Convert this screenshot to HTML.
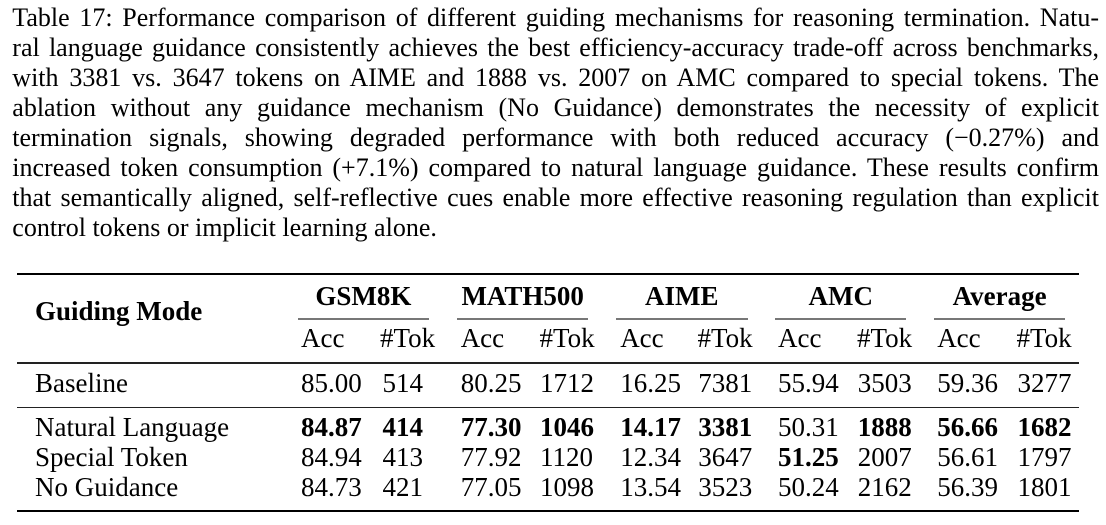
<!DOCTYPE html>
<html>
<head>
<meta charset="utf-8">
<style>
  html, body { margin:0; padding:0; background:#fff; }
  body { width:1106px; height:525px; position:relative; overflow:hidden;
         font-family:"Liberation Serif","Times New Roman",serif; color:#000; }
  .ln { position:absolute; left:12.3px; font-size:26px; line-height:26px; white-space:nowrap; }
  .t { position:absolute; font-size:27px; line-height:27px; white-space:nowrap; }
  .b { font-weight:bold; }
  .c { width:200px; text-align:center; }
  .rule { position:absolute; background:#000; }
  .cmid { position:absolute; background:#777; height:1.5px; top:318px; }
</style>
</head>
<body>
<div class="ln" style="top:4.9px"><span>Table 17: Performance comparison of different guiding mechanisms for reasoning termination. Natu-</span></div>
<div class="ln" style="top:34.9px"><span>ral language guidance consistently achieves the best efficiency-accuracy trade-off across benchmarks,</span></div>
<div class="ln" style="top:64.9px"><span>with 3381 vs. 3647 tokens on AIME and 1888 vs. 2007 on AMC compared to special tokens. The</span></div>
<div class="ln" style="top:94.9px"><span>ablation without any guidance mechanism (No Guidance) demonstrates the necessity of explicit</span></div>
<div class="ln" style="top:124.9px"><span>termination signals, showing degraded performance with both reduced accuracy (−0.27%) and</span></div>
<div class="ln" style="top:154.9px"><span>increased token consumption (+7.1%) compared to natural language guidance. These results confirm</span></div>
<div class="ln" style="top:184.9px"><span>that semantically aligned, self-reflective cues enable more effective reasoning regulation than explicit</span></div>
<div class="ln last" style="top:214.9px"><span>control tokens or implicit learning alone.</span></div>

<!-- rules -->
<div class="rule" style="left:17.3px;width:1062px;top:273px;height:2px"></div>
<div class="cmid" style="left:297.7px;width:131.6px"></div>
<div class="cmid" style="left:457.1px;width:131.2px"></div>
<div class="cmid" style="left:616px;width:131.5px"></div>
<div class="cmid" style="left:775.2px;width:131.2px"></div>
<div class="cmid" style="left:934px;width:131.2px"></div>
<div class="rule" style="left:17.3px;width:1062px;top:362px;height:1.5px;background:#222"></div>
<div class="rule" style="left:17.3px;width:1062px;top:406.5px;height:1.5px;background:#222"></div>
<div class="rule" style="left:17.3px;width:1062px;top:510px;height:2px"></div>

<!-- header -->
<div class="t b" style="left:35px;top:297.7px">Guiding Mode</div>
<div class="t b c" style="left:263.4px;top:282.7px">GSM8K</div>
<div class="t b c" style="left:422.7px;top:282.7px">MATH500</div>
<div class="t b c" style="left:581.8px;top:282.7px">AIME</div>
<div class="t b c" style="left:740.8px;top:282.7px">AMC</div>
<div class="t b c" style="left:899.6px;top:282.7px">Average</div>

<div class="t" style="left:301px;top:325.4px">Acc</div>
<div class="t" style="left:380px;top:325.4px">#Tok</div>
<div class="t" style="left:460.7px;top:325.4px">Acc</div>
<div class="t" style="left:539.5px;top:325.4px">#Tok</div>
<div class="t" style="left:620.2px;top:325.4px">Acc</div>
<div class="t" style="left:697.5px;top:325.4px">#Tok</div>
<div class="t" style="left:778px;top:325.4px">Acc</div>
<div class="t" style="left:857px;top:325.4px">#Tok</div>
<div class="t" style="left:937.2px;top:325.4px">Acc</div>
<div class="t" style="left:1016.5px;top:325.4px">#Tok</div>

<!-- Baseline row -->
<div class="t" style="left:35px;top:370.1px">Baseline</div>
<div class="t" style="left:301px;top:370.1px">85.00</div>
<div class="t" style="left:382.5px;top:370.1px">514</div>
<div class="t" style="left:460.7px;top:370.1px">80.25</div>
<div class="t" style="left:540px;top:370.1px">1712</div>
<div class="t" style="left:620.2px;top:370.1px">16.25</div>
<div class="t" style="left:698.2px;top:370.1px">7381</div>
<div class="t" style="left:778px;top:370.1px">55.94</div>
<div class="t" style="left:857.8px;top:370.1px">3503</div>
<div class="t" style="left:937.2px;top:370.1px">59.36</div>
<div class="t" style="left:1017.5px;top:370.1px">3277</div>

<!-- Natural Language -->
<div class="t" style="left:35px;top:414.1px">Natural Language</div>
<div class="t b" style="left:301px;top:414.1px">84.87</div>
<div class="t b" style="left:382.5px;top:414.1px">414</div>
<div class="t b" style="left:460.7px;top:414.1px">77.30</div>
<div class="t b" style="left:540px;top:414.1px">1046</div>
<div class="t b" style="left:620.2px;top:414.1px">14.17</div>
<div class="t b" style="left:698.2px;top:414.1px">3381</div>
<div class="t" style="left:778px;top:414.1px">50.31</div>
<div class="t b" style="left:857.8px;top:414.1px">1888</div>
<div class="t b" style="left:937.2px;top:414.1px">56.66</div>
<div class="t b" style="left:1017.5px;top:414.1px">1682</div>

<!-- Special Token -->
<div class="t" style="left:35px;top:444.1px">Special Token</div>
<div class="t" style="left:301px;top:444.1px">84.94</div>
<div class="t" style="left:382.5px;top:444.1px">413</div>
<div class="t" style="left:460.7px;top:444.1px">77.92</div>
<div class="t" style="left:540px;top:444.1px">1120</div>
<div class="t" style="left:620.2px;top:444.1px">12.34</div>
<div class="t" style="left:698.2px;top:444.1px">3647</div>
<div class="t b" style="left:778px;top:444.1px">51.25</div>
<div class="t" style="left:857.8px;top:444.1px">2007</div>
<div class="t" style="left:937.2px;top:444.1px">56.61</div>
<div class="t" style="left:1017.5px;top:444.1px">1797</div>

<!-- No Guidance -->
<div class="t" style="left:35px;top:474.1px">No Guidance</div>
<div class="t" style="left:301px;top:474.1px">84.73</div>
<div class="t" style="left:382.5px;top:474.1px">421</div>
<div class="t" style="left:460.7px;top:474.1px">77.05</div>
<div class="t" style="left:540px;top:474.1px">1098</div>
<div class="t" style="left:620.2px;top:474.1px">13.54</div>
<div class="t" style="left:698.2px;top:474.1px">3523</div>
<div class="t" style="left:778px;top:474.1px">50.24</div>
<div class="t" style="left:857.8px;top:474.1px">2162</div>
<div class="t" style="left:937.2px;top:474.1px">56.39</div>
<div class="t" style="left:1017.5px;top:474.1px">1801</div>

<script>
(function(){
  var target = 1099 - 12.3;
  var lines = document.querySelectorAll('.ln');
  for (var i = 0; i < lines.length; i++) {
    var el = lines[i];
    if (el.className.indexOf('last') >= 0) continue;
    var sp = el.firstElementChild;
    var w = sp.getBoundingClientRect().width;
    var n = (sp.textContent.match(/ /g) || []).length;
    if (n > 0) {
      el.style.wordSpacing = ((target - w) / n) + 'px';
    }
  }
})();
</script>
</body>
</html>
